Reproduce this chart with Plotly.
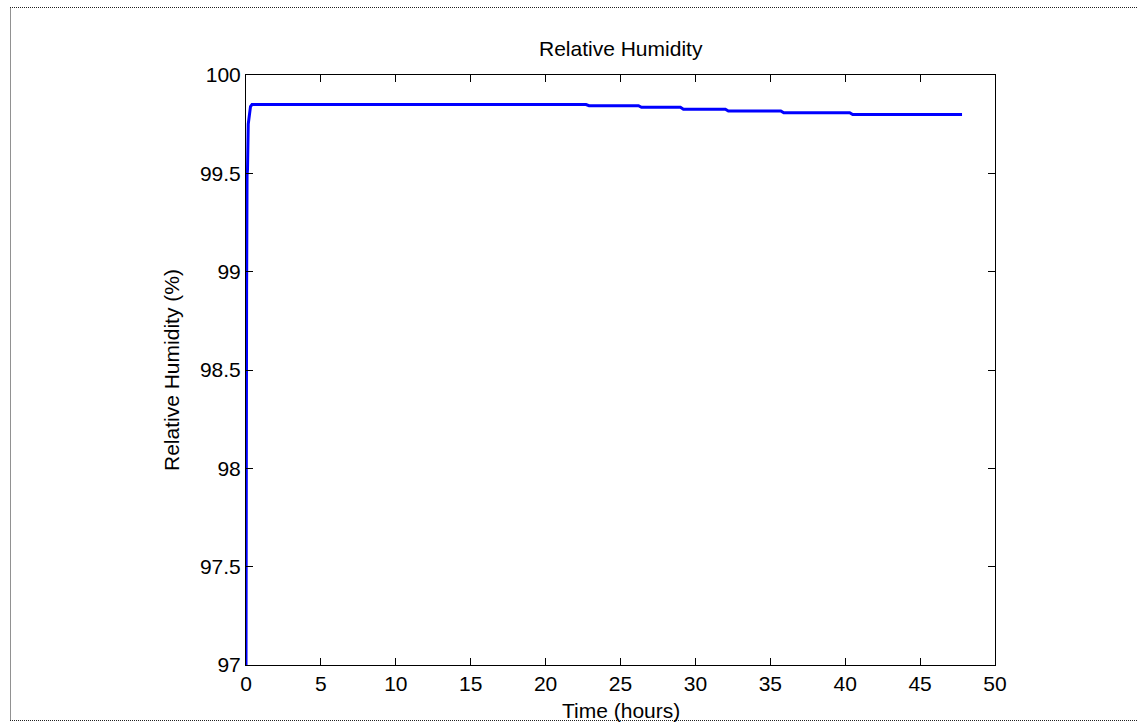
import plotly.graph_objects as go

# Data
time_hours = [0.0, 0.0, 0.04, 0.07, 0.10, 0.15, 0.20, 0.30, 0.40, 22.7, 22.9, 26.2, 26.4,
              29.0, 29.2, 32.0, 32.2, 35.7, 35.9, 40.3, 40.5, 47.8]
rel_humidity = [97.0, 98.25, 98.9, 99.49, 99.52, 99.75, 99.78, 99.84, 99.85, 99.85, 99.844, 99.844,
                99.836, 99.836, 99.826, 99.826, 99.817, 99.817, 99.808, 99.808, 99.799, 99.799]

x_ticks = [0, 5, 10, 15, 20, 25, 30, 35, 40, 45, 50]
x_tick_labels = ["0", "5", "10", "15", "20", "25", "30", "35", "40", "45", "50"]
y_ticks = [97, 97.5, 98, 98.5, 99, 99.5, 100]
y_tick_labels = ["97", "97.5", "98", "98.5", "99", "99.5", "100"]

W, H = 1137, 722
L, R, T, B = 246, 142, 75, 57
pw, ph = W - L - R, H - T - B

FONT = "Liberation Sans, Arial, sans-serif"

fig = go.Figure()
fig.add_trace(go.Scatter(x=time_hours, y=rel_humidity, mode="lines",
                         line=dict(color="#0000FF", width=3), showlegend=False,
                         hoverinfo="skip"))

axis_common = dict(showline=True, linecolor="black", linewidth=1, mirror="ticks",
                   ticks="inside", ticklen=7, tickcolor="black", tickwidth=1,
                   showgrid=False, zeroline=False,
                   tickfont=dict(family=FONT, size=21, color="black"))

fig.update_xaxes(range=[0, 50], tickvals=x_ticks, ticktext=x_tick_labels, **axis_common)
fig.update_yaxes(range=[97, 100], tickvals=y_ticks, ticktext=y_tick_labels, **axis_common)

def px_x(x):
    return (x - L) / pw

def px_y(y):
    return (T + ph - y) / ph

annotations = [
    dict(text="Relative Humidity", x=0.5, y=px_y(62), xref="paper", yref="paper",
         xanchor="center", yanchor="bottom", showarrow=False,
         font=dict(family=FONT, size=21, color="black")),
    dict(text="Time (hours)", x=0.5, y=px_y(697), xref="paper", yref="paper",
         xanchor="center", yanchor="top", showarrow=False,
         font=dict(family=FONT, size=21, color="black")),
    dict(text="Relative Humidity (%)", x=px_x(171), y=0.5, xref="paper", yref="paper",
         xanchor="center", yanchor="middle", textangle=-90, showarrow=False,
         font=dict(family=FONT, size=21, color="black")),
]

border = dict(type="line", xref="paper", yref="paper",
              line=dict(color="#222222", width=1, dash="1px,1px"))
shapes = [
    dict(border, x0=px_x(10), x1=px_x(1137), y0=px_y(7.5), y1=px_y(7.5)),
    dict(border, x0=px_x(10.5), x1=px_x(10.5), y0=px_y(7.5), y1=px_y(720.5)),
    dict(border, x0=px_x(10), x1=px_x(1137), y0=px_y(720.5), y1=px_y(720.5)),
]

fig.update_layout(width=W, height=H, margin=dict(l=L, r=R, t=T, b=B),
                  paper_bgcolor="white", plot_bgcolor="white",
                  annotations=annotations, shapes=shapes, hovermode=False,
                  font=dict(family=FONT, size=21, color="black"))

fig.write_html("out.html", config={"displayModeBar": False, "staticPlot": True},
               post_script="document.body.style.margin='0px';")
